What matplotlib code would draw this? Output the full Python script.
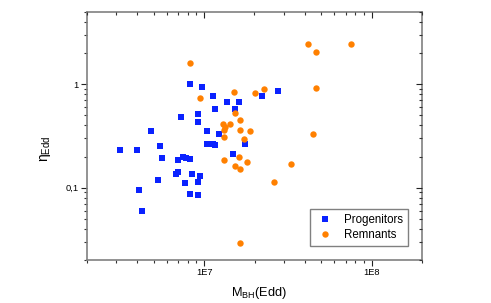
import matplotlib
matplotlib.use("Agg")
import matplotlib.pyplot as plt
from matplotlib.ticker import LogLocator, FixedLocator, FixedFormatter, NullFormatter

plt.rcParams['font.family'] = ['Liberation Sans', 'DejaVu Sans']
plt.rcParams['mathtext.fontset'] = 'custom'
plt.rcParams['mathtext.rm'] = 'Liberation Sans'
plt.rcParams['mathtext.default'] = 'regular'

# data
prog_mass = [3.13e6, 3.99e6, 5.43e6, 4.84e6, 5.61e6, 6.96e6, 7.52e6, 7.84e6, 8.28e6, 6.96e6,
             6.78e6, 5.31e6, 8.44e6, 9.50e6, 7.67e6, 9.15e6, 4.11e6, 8.21e6, 9.21e6, 4.24e6,
             8.28e6, 9.77e6, 7.29e6, 9.17e6, 9.17e6, 1.038e7, 1.038e7, 1.127e7, 1.372e7, 1.619e7,
             2.231e7, 2.77e7, 1.163e7, 1.526e7, 1.224e7, 1.127e7, 1.163e7, 1.751e7, 1.484e7]
prog_eta = [0.2315, 0.2315, 0.2514, 0.356, 0.195, 0.1833, 0.198, 0.195, 0.1895, 0.1434,
            0.1363, 0.1187, 0.1357, 0.129, 0.1118, 0.1148, 0.0944, 0.0864, 0.0856, 0.0591,
            1.0, 0.935, 0.486, 0.513, 0.434, 0.3535, 0.266, 0.77, 0.679, 0.679,
            0.762, 0.856, 0.573, 0.581, 0.3307, 0.2647, 0.257, 0.2665, 0.2104]

rem_mass = [8.28e6, 9.50e6, 1.505e7, 2.026e7, 2.278e7, 1.539e7, 1.648e7, 1.304e7, 1.436e7, 1.335e7,
            1.311e7, 1.648e7, 1.891e7, 1.313e7, 1.734e7, 1.311e7, 1.614e7, 1.815e7, 1.539e7, 1.648e7,
            2.62e7, 3.298e7, 1.648e7, 4.145e7, 4.653e7, 7.56e7, 4.653e7, 4.44e7]
rem_eta = [1.607, 0.729, 0.848, 0.829, 0.901, 0.5254, 0.4487, 0.4104, 0.4104, 0.3822,
           0.363, 0.3598, 0.355, 0.309, 0.299, 0.1874, 0.196, 0.176, 0.1632, 0.1507,
           0.1128, 0.1695, 0.0292, 2.426, 2.039, 2.437, 0.915, 0.3285]

x_ticks = [1e7, 1e8]
x_ticklabels = ['1E7', '1E8']
y_ticks = [0.1, 1]
y_ticklabels = ['0,1', '1']

xlim = (2e6, 2e8)
ylim = (0.02, 5)

fig = plt.figure(figsize=(4.91, 3.03), dpi=100)
ax = fig.add_axes([87/491, 1 - 260/303, 335/491, 248/303])

ax.plot(prog_mass, prog_eta, ls='none', marker='s', ms=4.3, color='#0a22ff', mew=0,
        label='Progenitors')
ax.plot(rem_mass, rem_eta, ls='none', marker='o', ms=4.6, color='#ff8000', mew=0,
        label='Remnants')

ax.set_xscale('log')
ax.set_yscale('log')
ax.set_xlim(*xlim)
ax.set_ylim(*ylim)

ax.xaxis.set_major_locator(FixedLocator(x_ticks))
ax.xaxis.set_major_formatter(FixedFormatter(x_ticklabels))
ax.yaxis.set_major_locator(FixedLocator(y_ticks))
ax.yaxis.set_major_formatter(FixedFormatter(y_ticklabels))
ax.xaxis.set_minor_locator(LogLocator(base=10, subs=range(2, 10)))
ax.yaxis.set_minor_locator(LogLocator(base=10, subs=range(2, 10)))
ax.xaxis.set_minor_formatter(NullFormatter())
ax.yaxis.set_minor_formatter(NullFormatter())

for s in ax.spines.values():
    s.set_color('#808080')
    s.set_linewidth(1.2)

ax.tick_params(which='major', direction='out', length=4, width=0.8, color='#222222',
               labelsize=6.7, pad=2)
ax.tick_params(which='minor', direction='out', length=2.5, width=0.8, color='#333333')

# mirrored ticks on top / right point inward
for tw, axis in ((ax.twiny(), 'x'), (ax.twinx(), 'y')):
    if axis == 'x':
        tw.set_xscale('log')
        tw.set_xlim(*xlim)
        tw.xaxis.set_major_locator(FixedLocator(x_ticks))
        tw.xaxis.set_minor_locator(LogLocator(base=10, subs=range(2, 10)))
        tw.xaxis.set_major_formatter(NullFormatter())
        tw.xaxis.set_minor_formatter(NullFormatter())
    else:
        tw.set_yscale('log')
        tw.set_ylim(*ylim)
        tw.yaxis.set_major_locator(FixedLocator(y_ticks))
        tw.yaxis.set_minor_locator(LogLocator(base=10, subs=range(2, 10)))
        tw.yaxis.set_major_formatter(NullFormatter())
        tw.yaxis.set_minor_formatter(NullFormatter())
    tw.tick_params(which='major', direction='in', length=4, width=0.8, color='#222222')
    tw.tick_params(which='minor', direction='in', length=2.5, width=0.8, color='#333333')
    for s in tw.spines.values():
        s.set_visible(False)

ax.set_xlabel('M$_{BH}$(Edd)', fontsize=9.2)
ax.set_ylabel('η$_{Edd}$', fontsize=10)
ax.xaxis.set_label_coords((259 - 87) / 335, -0.102)
ax.yaxis.set_label_coords(-(87 - 53) / 335, 0.45)

leg = ax.legend(loc='lower right', bbox_to_anchor=(0.958, 0.0565), borderaxespad=0,
                fontsize=8.3, frameon=True, fancybox=False, framealpha=1,
                handlelength=1.83, handletextpad=0.68, borderpad=0.45, labelspacing=0.2)
leg.get_frame().set_edgecolor('#808080')
leg.get_frame().set_linewidth(1.0)

fig.savefig('out.png', dpi=100)
